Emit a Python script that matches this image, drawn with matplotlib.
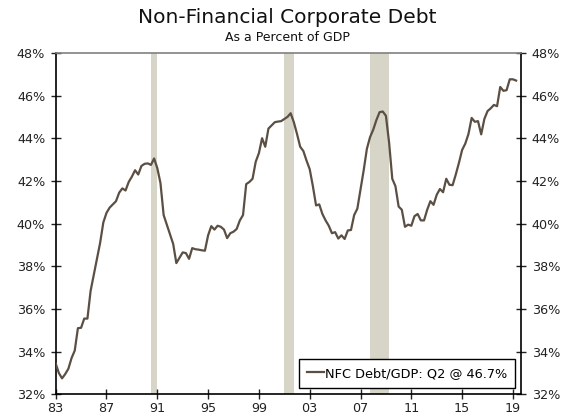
import matplotlib
matplotlib.use("Agg")
import matplotlib.pyplot as plt
import numpy as np

# Quarterly NFC debt as a share of GDP, 1983 Q1 - 2019 Q2
start_year = 1983
nfc_debt_gdp = [
    33.45, 33.00, 32.75, 32.95,   # 1983
    33.20, 33.70, 34.05, 35.10,   # 1984
    35.12, 35.55, 35.55, 36.85,   # 1985
    37.60, 38.35, 39.10, 40.05,   # 1986
    40.50, 40.75, 40.90, 41.05,   # 1987
    41.45, 41.65, 41.55, 41.95,   # 1988
    42.20, 42.50, 42.30, 42.70,   # 1989
    42.80, 42.82, 42.75, 43.05,   # 1990
    42.60, 41.90, 40.40, 39.95,   # 1991
    39.50, 39.05, 38.15, 38.40,   # 1992
    38.65, 38.62, 38.35, 38.85,   # 1993
    38.80, 38.78, 38.75, 38.73,   # 1994
    39.45, 39.88, 39.72, 39.90,   # 1995
    39.85, 39.72, 39.32, 39.55,   # 1996
    39.62, 39.75, 40.15, 40.40,   # 1997
    41.85, 41.95, 42.10, 42.90,   # 1998
    43.30, 44.00, 43.60, 44.45,   # 1999
    44.60, 44.75, 44.78, 44.80,   # 2000
    44.90, 45.00, 45.17, 44.75,   # 2001
    44.20, 43.60, 43.40, 42.95,   # 2002
    42.55, 41.75, 40.85, 40.90,   # 2003
    40.45, 40.15, 39.90, 39.55,   # 2004
    39.60, 39.30, 39.45, 39.28,   # 2005
    39.68, 39.70, 40.40, 40.70,   # 2006
    41.60, 42.50, 43.50, 44.05,   # 2007
    44.40, 44.85, 45.22, 45.25,   # 2008
    45.05, 43.80, 42.10, 41.75,   # 2009
    40.80, 40.65, 39.85, 39.95,   # 2010
    39.90, 40.35, 40.45, 40.15,   # 2011
    40.15, 40.65, 41.05, 40.88,   # 2012
    41.35, 41.62, 41.47, 42.10,   # 2013
    41.82, 41.80, 42.30, 42.85,   # 2014
    43.45, 43.75, 44.20, 44.95,   # 2015
    44.77, 44.80, 44.18, 44.90,   # 2016
    45.27, 45.40, 45.56, 45.50,   # 2017
    46.40, 46.22, 46.25, 46.76,   # 2018
    46.76, 46.70,                 # 2019
]

# Recession periods (start, end) in fractional years
recessions = [(1990.5, 1991.0), (2001.0, 2001.75), (2007.75, 2009.25)]

tick_years = [1983, 1987, 1991, 1995, 1999, 2003, 2007, 2011, 2015, 2019]
y_ticks = [32, 34, 36, 38, 40, 42, 44, 46, 48]

line_color = "#5b4f44"
band_color = "#d7d4c8"

plt.rcParams["font.family"] = ["DejaVu Sans"]

dates = start_year + np.arange(len(nfc_debt_gdp)) / 4.0

fig = plt.figure(figsize=(5.74, 4.16), dpi=100)
ax = fig.add_axes([0.097, 0.052, 0.811, 0.821])

for r0, r1 in recessions:
    ax.axvspan(r0, r1, color=band_color, lw=0, zorder=1)

ax.plot(dates, nfc_debt_gdp, color=line_color, lw=1.6, zorder=3,
        label="NFC Debt/GDP: Q2 @ 46.7%")

ax.set_xlim(1983, 2019.65)
ax.set_ylim(32, 48)
ax.set_xticks(tick_years)
ax.set_xticklabels([f"{y % 100:02d}" for y in tick_years])
ax.set_yticks(y_ticks)
ax.set_yticklabels([f"{v}%" for v in y_ticks])

ax.tick_params(axis="both", direction="inout", length=7, width=1,
               labelsize=9.2, colors="#222222")
ax.tick_params(axis="y", right=True, labelright=True, pad=4)
ax.tick_params(axis="x", pad=2)

for side in ("left", "right", "bottom"):
    ax.spines[side].set_color("black")
    ax.spines[side].set_linewidth(1.2)
ax.spines["top"].set_color("#808080")
ax.spines["top"].set_linewidth(1.2)

leg = ax.legend(loc="lower right", bbox_to_anchor=(0.987, 0.02),
                borderaxespad=0, fontsize=9.3, handlelength=1.3,
                handletextpad=0.1, fancybox=False, framealpha=1,
                edgecolor="black", borderpad=0.6)
leg.get_frame().set_linewidth(1.0)

fig.text(0.5, 0.958, "Non-Financial Corporate Debt", ha="center",
         va="center", fontsize=14.5, color="#111111")
fig.text(0.5, 0.91, "As a Percent of GDP", ha="center", va="center",
         fontsize=9, color="#111111")

fig.savefig("out.png", dpi=100)
